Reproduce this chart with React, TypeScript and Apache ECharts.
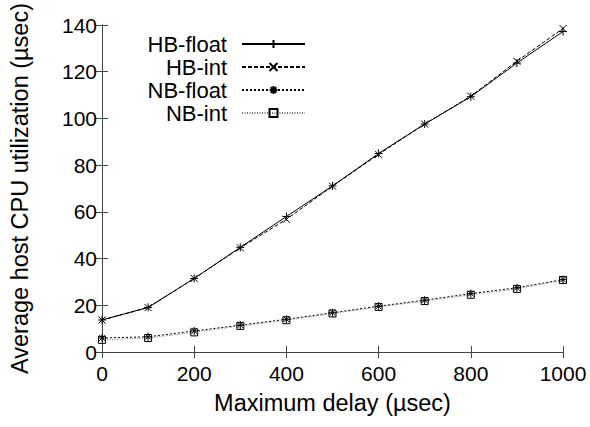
import React, { useEffect, useRef } from "react";
import * as echarts from "echarts";

const xValues = [0, 100, 200, 300, 400, 500, 600, 700, 800, 900, 1000];
const hbFloat = [13.7, 19.1, 31.5, 44.8, 58, 71.1, 85, 97.6, 109.3, 123.7, 137.2];
const hbInt = [13.7, 19, 31.5, 44.6, 56.8, 71, 84.6, 97.6, 109.5, 124.5, 138.5];
const nbFloat = [6, 6.5, 9, 11.5, 14, 16.8, 19.6, 22.2, 25, 27.5, 31];
const nbInt = [5.2, 6, 8.4, 11.2, 13.6, 16.5, 19.3, 21.8, 24.5, 27, 30.8];
const seriesNames = ["HB-float", "HB-int", "NB-float", "NB-int"];

const FONT = "Liberation Sans";

const pair = (ys: number[]) => xValues.map((x, i) => [x, ys[i]]);

export default function App() {
  const ref = useRef<HTMLDivElement>(null);
  useEffect(() => {
    if (!ref.current) return;
    document.body.style.margin = "0";
    const chart = echarts.init(ref.current, undefined, { renderer: "svg" });
    const axisLine = { show: true, lineStyle: { color: "#444", width: 1 } };
    const tick = { show: true, inside: true, length: 6, lineStyle: { color: "#444" } };
    const mk = (
      name: string,
      ys: number[],
      symbol: string,
      size: number,
      dash: any,
      lineColor: string,
      fill: string
    ) => ({
      name,
      type: "line",
      data: pair(ys),
      symbol,
      symbolSize: size,
      showSymbol: true,
      lineStyle: { color: lineColor, width: 1, type: dash },
      itemStyle: { color: fill, borderColor: "#000", borderWidth: 1 },
      emphasis: { disabled: true },
    });
    chart.setOption({
      animation: false,
      textStyle: { fontFamily: FONT },
      grid: { left: 101, right: 27, top: 25, bottom: 75 },
      legend: {
        orient: "vertical",
        align: "right",
        right: 279,
        top: 28,
        itemWidth: 63,
        itemHeight: 10,
        itemGap: 1,
        data: seriesNames,
        textStyle: {
          fontSize: 22,
          color: "#000",
          fontFamily: FONT,
          lineHeight: 22,
          padding: [0, 10, 0, 0],
        },
      },
      xAxis: [
        {
          type: "value",
          min: 0,
          max: 1000,
          interval: 200,
          name: "Maximum delay (\u00b5sec)",
          nameLocation: "middle",
          nameGap: 39,
          nameTextStyle: { fontSize: 23.5, color: "#000", fontFamily: FONT },
          axisLine,
          axisTick: tick,
          axisLabel: {
            fontSize: 21,
            color: "#000",
            margin: 11,
            fontFamily: FONT,
            formatter: (v: number) => String(v),
          },
          splitLine: { show: false },
        },
        {
          type: "value",
          position: "top",
          min: 0,
          max: 1000,
          interval: 200,
          axisLine,
          axisTick: tick,
          axisLabel: { show: false },
          splitLine: { show: false },
        },
      ],
      yAxis: [
        {
          type: "value",
          min: 0,
          max: 140,
          interval: 20,
          name: "Average host CPU utilization (\u00b5sec)",
          nameLocation: "middle",
          nameGap: 70,
          nameTextStyle: { fontSize: 23.5, color: "#000", fontFamily: FONT },
          axisLine,
          axisTick: tick,
          axisLabel: { fontSize: 21, color: "#000", margin: 5, fontFamily: FONT },
          splitLine: { show: false },
        },
        {
          type: "value",
          position: "right",
          min: 0,
          max: 140,
          interval: 20,
          axisLine,
          axisTick: tick,
          axisLabel: { show: false },
          splitLine: { show: false },
        },
      ],
      series: [
        mk(seriesNames[0], hbFloat, "path://M0,5L10,5M5,0L5,10", 8, "solid", "#000", "rgba(0,0,0,0)"),
        mk(seriesNames[1], hbInt, "path://M0,0L10,10M0,10L10,0", 7, [4, 2], "#000", "rgba(0,0,0,0)"),
        mk(
          seriesNames[2],
          nbFloat,
          "path://M0,5L10,5M5,0L5,10M1.5,1.5L8.5,8.5M1.5,8.5L8.5,1.5",
          8,
          [2, 2],
          "#000",
          "rgba(0,0,0,0)"
        ),
        mk(seriesNames[3], nbInt, "rect", 7, [1, 1.5], "#777", "rgba(0,0,0,0)"),
      ],
    });
    return () => chart.dispose();
  }, []);
  return <div ref={ref} style={{ width: 590, height: 427 }} />;
}
